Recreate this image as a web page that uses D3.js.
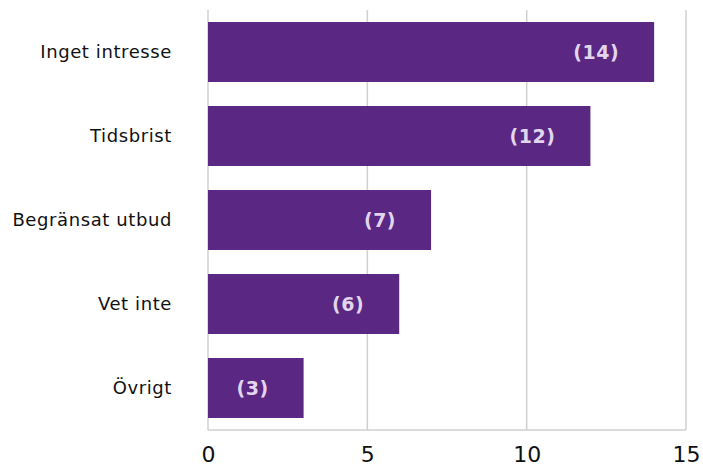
<!DOCTYPE html>
<html>
<head>
<meta charset="utf-8">
<script src="https://cdn.jsdelivr.net/npm/d3@7"></script>
<style>
  html, body { margin: 0; padding: 0; background: #fff; }
  svg { display: block; }
</style>
</head>
<body>
<svg id="chart" width="703" height="469"></svg>
<script>
// Reasons, counts and axis ticks
const categories = ["Inget intresse", "Tidsbrist", "Begränsat utbud", "Vet inte", "Övrigt"];
const counts = [14, 12, 7, 6, 3];
const tickValues = [0, 5, 10, 15];

const svg = d3.select("#chart");
const plotLeft = 208, plotRight = 686, plotTop = 10, plotBottom = 430;

const x = d3.scaleLinear().domain([0, 15]).range([plotLeft, plotRight]);
const y = d3.scaleBand().domain(categories).range([plotTop, plotBottom])
  .paddingInner(0.286).paddingOuter(0.143);

// Vertical grid lines
svg.append("g").selectAll("line").data(tickValues).join("line")
  .attr("x1", d => x(d)).attr("x2", d => x(d))
  .attr("y1", plotTop).attr("y2", plotBottom)
  .attr("stroke", "#d0d0d0").attr("stroke-width", 1.5);

// Baseline
svg.append("line")
  .attr("x1", x(0)).attr("x2", x(15))
  .attr("y1", plotBottom).attr("y2", plotBottom)
  .attr("stroke", "#d0d0d0").attr("stroke-width", 1.5);

const rows = categories.map((c, i) => ({ c, v: counts[i] }));

// Bars
svg.append("g").selectAll("rect").data(rows).join("rect")
  .attr("x", x(0))
  .attr("y", d => y(d.c))
  .attr("width", d => x(d.v) - x(0))
  .attr("height", y.bandwidth())
  .attr("fill", "#5a2783");

// Value labels inside bars
svg.append("g").selectAll("text").data(rows).join("text")
  .attr("x", d => x(d.v) - 35)
  .attr("y", d => y(d.c) + y.bandwidth() / 2)
  .attr("dy", "0.35em")
  .attr("text-anchor", "end")
  .attr("font-family", "DejaVu Sans, sans-serif")
  .attr("font-size", 19)
  .attr("font-weight", "bold")
  .attr("letter-spacing", 0.5)
  .attr("fill", "#e2d6ee")
  .text(d => `(${d.v})`);

// Category axis
const yAxis = d3.axisLeft(y).tickSize(0).tickPadding(36);
const gy = svg.append("g").attr("transform", `translate(${plotLeft},0)`).call(yAxis);
gy.select(".domain").remove();
gy.selectAll("text")
  .attr("font-family", "DejaVu Sans, sans-serif")
  .attr("font-size", 18)
  .attr("letter-spacing", 0.6)
  .attr("fill", "#111");

// Value axis
const xAxis = d3.axisBottom(x).tickValues(tickValues).tickSize(0).tickPadding(16);
const gx = svg.append("g").attr("transform", `translate(0,${plotBottom})`).call(xAxis);
gx.select(".domain").remove();
gx.selectAll("text")
  .attr("font-family", "DejaVu Sans, sans-serif")
  .attr("font-size", 22)
  .attr("fill", "#111");
</script>
</body>
</html>
